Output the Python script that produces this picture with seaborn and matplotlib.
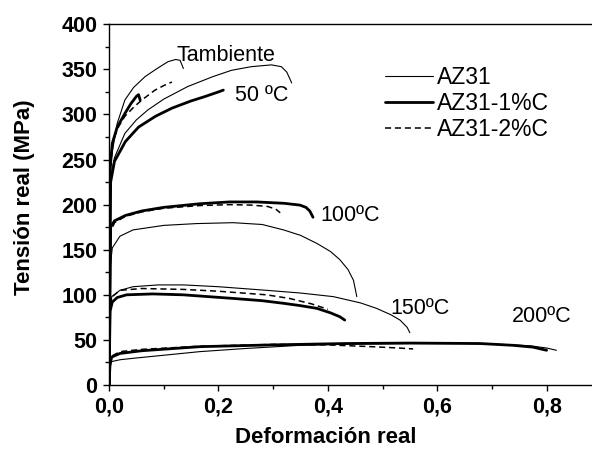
import matplotlib
matplotlib.use("Agg")
import matplotlib.pyplot as plt
from matplotlib.ticker import MultipleLocator, FuncFormatter
import pandas as pd
import seaborn as sns

# curves: strain (x) and stress in MPa (y)
tamb_az31_x = [0, 0.002, 0.005, 0.015, 0.029, 0.045, 0.066, 0.088, 0.108, 0.122, 0.13, 0.136]
tamb_az31_y = [0, 230, 255, 290, 316, 330, 342, 351, 358.6, 361, 360, 351]
tamb_1c_x = [0, 0.002, 0.006, 0.015, 0.029, 0.04, 0.05, 0.054, 0.057]
tamb_1c_y = [0, 240, 268, 286, 301, 312, 320, 322, 316]
tamb_2c_x = [0, 0.002, 0.008, 0.018, 0.029, 0.045, 0.06, 0.084, 0.1, 0.115]
tamb_2c_y = [0, 240, 272, 287, 298, 308, 316, 327, 332, 336]

t50_az31_x = [0, 0.003, 0.01, 0.029, 0.05, 0.071, 0.1, 0.144, 0.19, 0.224, 0.26, 0.297, 0.315, 0.325, 0.334]
t50_az31_y = [0, 230, 252, 279, 294, 305, 317, 331, 342, 349, 353, 355, 353, 347, 335]
t50_1c_x = [0, 0.003, 0.01, 0.03, 0.054, 0.085, 0.115, 0.15, 0.176, 0.2, 0.209]
t50_1c_y = [0, 225, 248, 270, 286, 298, 307, 315, 320, 325, 327]

t100_az31_x = [0, 0.002, 0.006, 0.02, 0.044, 0.1, 0.16, 0.227, 0.28, 0.319, 0.35, 0.38, 0.405, 0.422, 0.437, 0.447, 0.453]
t100_az31_y = [0, 130, 152, 165, 172, 177, 179, 180, 178, 172, 166, 157, 148, 139, 128, 116, 98]
t100_1c_x = [0, 0.003, 0.01, 0.03, 0.06, 0.1, 0.166, 0.22, 0.27, 0.32, 0.349, 0.36, 0.367, 0.373]
t100_1c_y = [0, 175, 182, 188, 193, 197, 201, 203, 203, 201.5, 199.5, 197, 193, 186]
t100_2c_x = [0, 0.003, 0.01, 0.03, 0.06, 0.1, 0.166, 0.22, 0.26, 0.29, 0.305, 0.313]
t100_2c_y = [0, 170, 180, 187, 192, 196, 199, 200, 199.5, 198, 195, 191]

t150_az31_x = [0, 0.002, 0.005, 0.02, 0.044, 0.09, 0.136, 0.2, 0.288, 0.35, 0.41, 0.46, 0.489, 0.515, 0.532, 0.545, 0.55]
t150_az31_y = [0, 80, 98, 105, 109, 111, 111, 109, 105, 102, 98, 91, 85, 78, 72, 64, 58]
t150_1c_x = [0, 0.002, 0.006, 0.015, 0.032, 0.08, 0.136, 0.227, 0.28, 0.319, 0.35, 0.38, 0.405, 0.422, 0.431]
t150_1c_y = [0, 82, 92, 97, 100, 101, 100, 96, 93.5, 90.6, 88, 85, 80, 75.7, 72]
t150_2c_x = [0, 0.002, 0.006, 0.02, 0.06, 0.136, 0.2, 0.288, 0.33, 0.37, 0.40]
t150_2c_y = [0, 85, 98, 105, 107, 106, 104, 100, 96, 90, 84]

t200_az31_x = [0, 0.002, 0.005, 0.02, 0.044, 0.1, 0.166, 0.25, 0.349, 0.45, 0.55, 0.65, 0.72, 0.77, 0.8, 0.818]
t200_az31_y = [0, 20, 26, 28, 29.6, 33, 37, 40.5, 44, 45.5, 46, 46, 45, 43.5, 41, 38.5]
t200_1c_x = [0, 0.002, 0.005, 0.02, 0.06, 0.166, 0.3, 0.434, 0.55, 0.678, 0.739, 0.775, 0.8]
t200_1c_y = [0, 24, 31, 35, 38, 42.5, 44.5, 46, 46.5, 46, 44, 42, 38.5]
t200_2c_x = [0, 0.002, 0.005, 0.02, 0.06, 0.166, 0.3, 0.4, 0.48, 0.53, 0.556]
t200_2c_y = [0, 25, 32, 37, 39.5, 43, 45, 44.5, 42.5, 41, 40]

materials = ["AZ31", "AZ31-1%C", "AZ31-2%C"]
temp_labels = ["Tambiente", "50 ºC", "100ºC", "150ºC", "200ºC"]
temp_label_x = [0.124, 0.23, 0.386, 0.514, 0.736]
temp_label_y = [365, 321, 188, 85, 76]

curves = [
    (tamb_az31_x, tamb_az31_y, "AZ31"),
    (tamb_1c_x, tamb_1c_y, "AZ31-1%C"),
    (tamb_2c_x, tamb_2c_y, "AZ31-2%C"),
    (t50_az31_x, t50_az31_y, "AZ31"),
    (t50_1c_x, t50_1c_y, "AZ31-1%C"),
    (t100_az31_x, t100_az31_y, "AZ31"),
    (t100_1c_x, t100_1c_y, "AZ31-1%C"),
    (t100_2c_x, t100_2c_y, "AZ31-2%C"),
    (t150_az31_x, t150_az31_y, "AZ31"),
    (t150_1c_x, t150_1c_y, "AZ31-1%C"),
    (t150_2c_x, t150_2c_y, "AZ31-2%C"),
    (t200_az31_x, t200_az31_y, "AZ31"),
    (t200_1c_x, t200_1c_y, "AZ31-1%C"),
    (t200_2c_x, t200_2c_y, "AZ31-2%C"),
]

line_style = {
    "AZ31": dict(linewidth=0.8, linestyle="-"),
    "AZ31-1%C": dict(linewidth=2.0, linestyle="-"),
    "AZ31-2%C": dict(linewidth=1.1, dashes=(4, 2.5)),
}

sns.set_style("ticks")
plt.rcParams["font.family"] = ["Liberation Sans", "DejaVu Sans"]
plt.rcParams["text.color"] = "black"
plt.rcParams["axes.labelcolor"] = "black"

fig = plt.figure(figsize=(5.92, 4.54), dpi=100)
ax = fig.add_axes([109 / 592, 69 / 454, 0.9 * 547 / 592, 360.7 / 454])

seen = set()
for xs, ys, mat in curves:
    df = pd.DataFrame({"strain": xs, "stress": ys})
    lab = mat if mat not in seen else None
    seen.add(mat)
    sns.lineplot(data=df, x="strain", y="stress", sort=False, estimator=None,
                 color="black", label=lab, ax=ax, **line_style[mat])

for t, tx, ty in zip(temp_labels, temp_label_x, temp_label_y):
    ax.text(tx, ty, t, fontsize=15.5, ha="left", va="center", color="black")

ax.set_xlim(0, 0.9)
ax.set_ylim(0, 400)
ax.xaxis.set_major_locator(MultipleLocator(0.2))
ax.xaxis.set_minor_locator(MultipleLocator(0.1))
ax.yaxis.set_major_locator(MultipleLocator(50))
ax.yaxis.set_minor_locator(MultipleLocator(25))
ax.xaxis.set_major_formatter(FuncFormatter(lambda v, p: f"{v:.1f}".replace(".", ",")))
ax.yaxis.set_major_formatter(FuncFormatter(lambda v, p: f"{v:.0f}"))
ax.tick_params(which="major", direction="out", length=4.5, width=1.0, pad=4,
               labelsize=15.5, colors="black")
ax.tick_params(which="minor", direction="out", length=3, width=1.0, colors="black")
for lab in ax.get_xticklabels() + ax.get_yticklabels():
    lab.set_fontweight("bold")
for s in ["left", "bottom", "top"]:
    ax.spines[s].set_linewidth(1.0)
    ax.spines[s].set_color("black")
ax.spines["right"].set_visible(False)

ax.set_xlabel("Deformación real", fontsize=16, fontweight="bold", color="black")
ax.set_ylabel("Tensión real (MPa)", fontsize=16, fontweight="bold", color="black")
ax.xaxis.set_label_coords(0.44, -0.117)
ax.yaxis.set_label_coords(-0.150, 0.52)

leg = ax.legend(loc="upper left", bbox_to_anchor=(385 / 592, (454 - 66) / 454),
                bbox_transform=fig.transFigure, frameon=False, fontsize=16.5,
                handlelength=2.1, handletextpad=0.15, labelspacing=0.14,
                borderpad=0, borderaxespad=0)
for txt in leg.get_texts():
    txt.set_color("black")

fig.savefig("out.png", dpi=100)
